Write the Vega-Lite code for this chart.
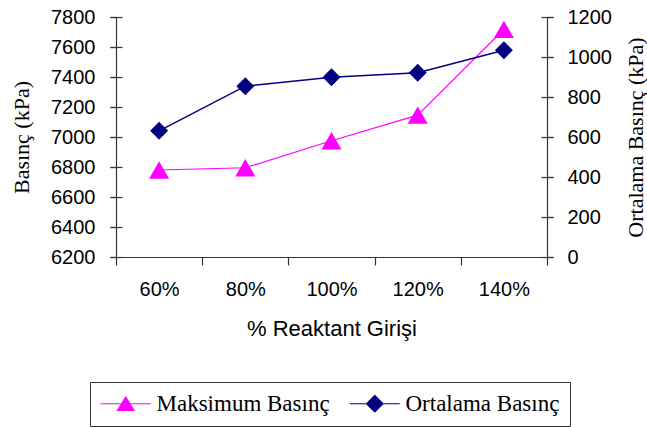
{
  "$schema": "https://vega.github.io/schema/vega-lite/v6.json",
  "width": 431,
  "height": 240,
  "autosize": {"type": "none"},
  "padding": {"left": 116, "top": 17, "right": 100, "bottom": 171},
  "background": "white",
  "data": {
    "values": [
      {"giris": "60%", "seri": "Maksimum Basınç", "basinc": 6780},
      {"giris": "80%", "seri": "Maksimum Basınç", "basinc": 6795},
      {"giris": "100%", "seri": "Maksimum Basınç", "basinc": 6975},
      {"giris": "120%", "seri": "Maksimum Basınç", "basinc": 7146},
      {"giris": "140%", "seri": "Maksimum Basınç", "basinc": 7718},
      {"giris": "60%", "seri": "Ortalama Basınç", "basinc": 631},
      {"giris": "80%", "seri": "Ortalama Basınç", "basinc": 854},
      {"giris": "100%", "seri": "Ortalama Basınç", "basinc": 899},
      {"giris": "120%", "seri": "Ortalama Basınç", "basinc": 921},
      {"giris": "140%", "seri": "Ortalama Basınç", "basinc": 1034}
    ]
  },
  "encoding": {
    "x": {
      "field": "giris",
      "type": "ordinal",
      "sort": ["60%", "80%", "100%", "120%", "140%"],
      "scale": {"paddingInner": 0, "paddingOuter": 0},
      "axis": {
        "title": "% Reaktant Girişi",
        "labelAngle": 0,
        "tickBand": "extent",
        "tickSize": 8,
        "labelPadding": 14,
        "titlePadding": 19
      }
    }
  },
  "layer": [
    {
      "transform": [{"filter": "datum.seri === 'Maksimum Basınç'"}],
      "mark": {"type": "line", "strokeWidth": 1.2},
      "encoding": {
        "y": {
          "field": "basinc",
          "type": "quantitative",
          "scale": {"domain": [6200, 7800], "nice": false, "zero": false},
          "axis": {
            "orient": "left",
            "values": [6200, 6400, 6600, 6800, 7000, 7200, 7400, 7600, 7800],
            "format": "d",
            "title": "Basınç (kPa)",
            "tickSize": 6,
            "labelPadding": 15,
            "titlePadding": 17,
            "titleFont": "Liberation Serif"
          }
        },
        "color": {
          "field": "seri",
          "type": "nominal",
          "scale": {"domain": ["Maksimum Basınç", "Ortalama Basınç"], "range": ["#ff00ff", "#000080"]},
          "legend": {
            "orient": "none",
            "legendX": -26,
            "legendY": 365,
            "direction": "horizontal",
            "title": null,
            "strokeColor": "#333333",
            "padding": 10,
            "labelFont": "Liberation Serif",
            "labelFontSize": 23,
            "labelColor": "#000000",
            "labelLimit": 400,
            "symbolSize": 100,
            "labelOffset": 33.5,
            "columnPadding": 17,
            "encode": {
              "symbols": {
                "update": {
                  "shape": {"signal": "datum.value === 'Maksimum Basınç' ? 'M-2.15,0H7.85M2.85,-1.35L4.5,1.35L1.2,1.35Z' : 'M-2.15,0H7.85M2.85,-1.65L4.5,0L2.85,1.65L1.2,0Z'"},
                  "fill": {"signal": "datum.value === 'Maksimum Basınç' ? '#ff00ff' : '#000080'"},
                  "stroke": {"signal": "datum.value === 'Maksimum Basınç' ? '#ff00ff' : '#000080'"},
                  "strokeWidth": {"value": 1.2},
                  "opacity": {"value": 1}
                }
              }
            }
          }
        }
      }
    },
    {
      "transform": [{"filter": "datum.seri === 'Maksimum Basınç'"}],
      "mark": {"type": "point", "shape": "triangle-up", "filled": true, "color": "#ff00ff", "size": 400, "opacity": 1},
      "encoding": {
        "y": {
          "field": "basinc",
          "type": "quantitative",
          "scale": {"domain": [6200, 7800], "nice": false, "zero": false},
          "axis": {
            "orient": "left",
            "values": [6200, 6400, 6600, 6800, 7000, 7200, 7400, 7600, 7800],
            "labels": false,
            "domain": false,
            "title": null,
            "tickSize": 12,
            "offset": -6
          }
        }
      }
    },
    {
      "transform": [{"filter": "datum.seri === 'Ortalama Basınç'"}],
      "mark": {"type": "line", "strokeWidth": 1.5, "color": "#000080"},
      "encoding": {
        "y": {
          "field": "basinc",
          "type": "quantitative",
          "scale": {"domain": [0, 1200], "nice": false},
          "axis": {
            "orient": "right",
            "values": [0, 200, 400, 600, 800, 1000, 1200],
            "format": "d",
            "title": "Ortalama Basınç (kPa)",
            "titleAngle": 270,
            "titleBaseline": "top",
            "tickSize": 6,
            "labelPadding": 14,
            "titlePadding": 14,
            "titleFont": "Liberation Serif"
          }
        }
      }
    },
    {
      "transform": [{"filter": "datum.seri === 'Ortalama Basınç'"}],
      "mark": {"type": "point", "shape": "diamond", "filled": true, "color": "#000080", "size": 320, "opacity": 1},
      "encoding": {
        "y": {
          "field": "basinc",
          "type": "quantitative",
          "scale": {"domain": [0, 1200], "nice": false},
          "axis": {
            "orient": "right",
            "values": [0, 200, 400, 600, 800, 1000, 1200],
            "labels": false,
            "domain": false,
            "title": null,
            "tickSize": 12,
            "offset": -6
          }
        }
      }
    }
  ],
  "resolve": {"scale": {"y": "independent"}, "axis": {"y": "independent"}},
  "config": {
    "view": {"stroke": null},
    "axis": {
      "grid": false,
      "domainColor": "#333333",
      "tickColor": "#333333",
      "domainWidth": 1.2,
      "tickWidth": 1.2,
      "labelFont": "Liberation Sans",
      "labelFontSize": 20,
      "labelColor": "#000000",
      "titleFont": "Liberation Sans",
      "titleFontSize": 22,
      "titleFontWeight": "normal",
      "titleColor": "#000000"
    }
  }
}
